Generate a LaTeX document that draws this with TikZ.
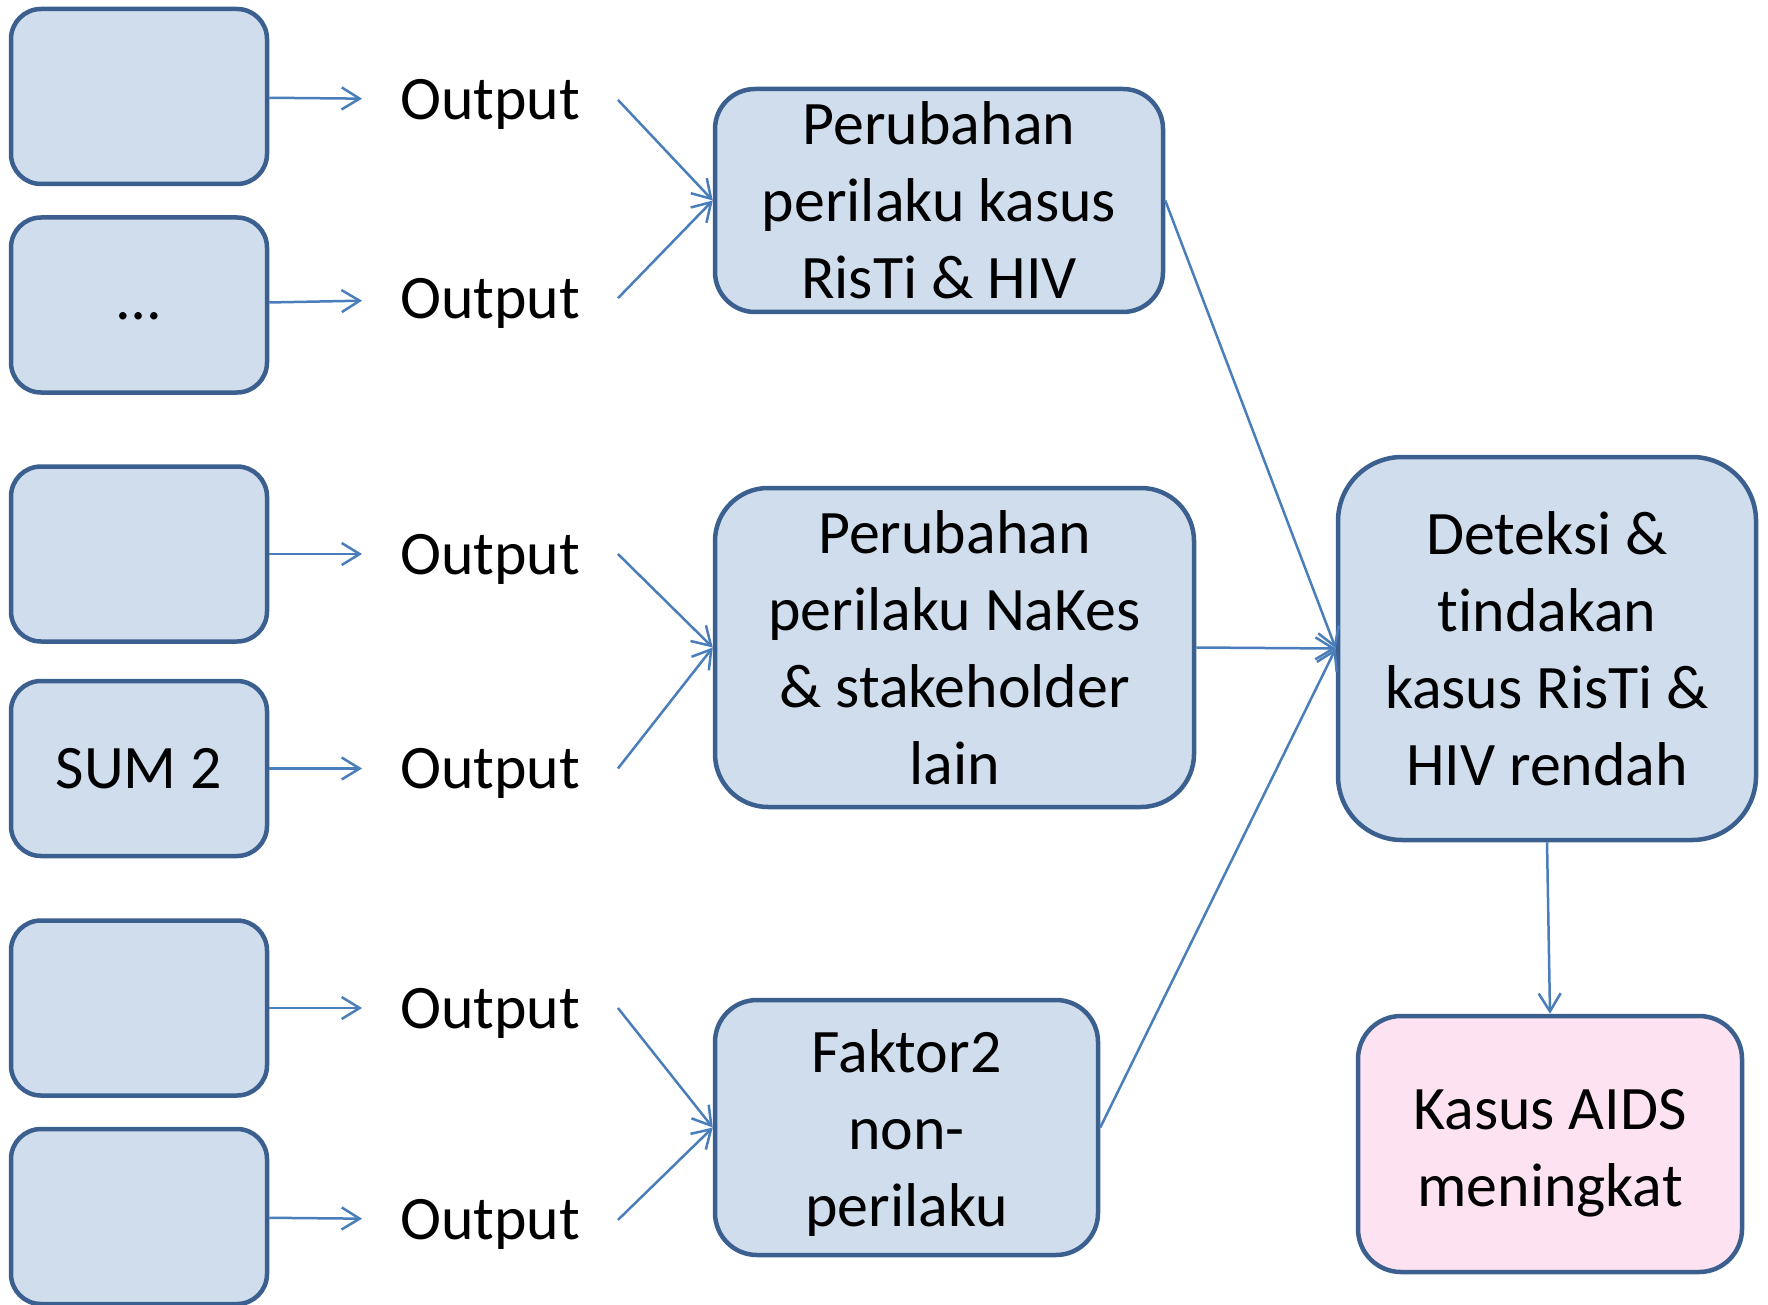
\documentclass[tikz,border=0pt]{standalone}
\usepackage{fontspec}
\setmainfont[Ligatures=NoCommon]{Carlito}
\usepackage{tikz}
\usetikzlibrary{positioning, arrows.meta}

\definecolor{boxline}{HTML}{3B5F8E}
\definecolor{boxfill}{HTML}{D0DDED}
\definecolor{pinkfill}{HTML}{FDE3F1}
\definecolor{arrowblue}{HTML}{4A7EBB}
\newcommand{\toprule}[1]{\rule{0pt}{#1}}

\begin{document}
\begin{tikzpicture}
    [
        node distance=2.1cm and 3.51cm, on grid,
        font=\fontsize{17.6}{21.9}\selectfont,
        blue_node/.style={rectangle, draw=boxline, fill=boxfill, line width=0.45mm, inner sep=0pt, align=center},
        left_node/.style={blue_node, rounded corners=3mm, minimum width=25.6mm, minimum height=17.5mm},
        pink_node/.style={blue_node, fill=pinkfill},
        out_label/.style={inner sep=0pt, outer sep=3.8mm, text depth=0pt},
        blue_arrow/.style={-{Straight Barb[length=1.8mm, width=2.2mm]}, line width=0.25mm, color=arrowblue},
    ]
        \useasboundingbox (0,0) rectangle (17.68,13.04);
        % left column
        \node[left_node] (sum1) at (1.39,12.075) {};
        \node[left_node] (sum2) [below = 2.085 of sum1] {\vphantom{Ag}\dots};
        \node[left_node] (sum3) [below = 2.49 of sum2] {};
        \node[left_node] (sum4) [below = 2.145 of sum3] {SUM 2};
        \node[left_node] (sum5) [below = 2.395 of sum4] {};
        \node[left_node] (sum6) [below = 2.085 of sum5] {};
        \node[out_label] (out1) [below right = 0.034 and 3.51 of sum1] {Output};
        \node[out_label] (out2) [above right = 0.068 and 3.51 of sum2] {Output};
        \node[out_label] (out3) [right = of sum3] {Output};
        \node[out_label] (out4) [right = of sum4] {Output};
        \node[out_label] (out5) [right = of sum5] {Output};
        \node[out_label] (out6) [below right = 0.034 and 3.51 of sum6] {Output};
        % middle column
        \node[blue_node, rounded corners=4mm, minimum width=44.8mm, minimum height=22.3mm] (kasus) at (9.39,11.035) {Perubahan\\perilaku kasus\\RisTi \& HIV};
        \node[blue_node, rounded corners=5.3mm, minimum width=47.9mm, minimum height=31.9mm] (nakes) at (9.545,6.565) {Perubahan\\perilaku NaKes\\\& stakeholder\\lain};
        \node[blue_node, rounded corners=4.2mm, minimum width=38.3mm, minimum height=25.5mm] (faktor) at (9.065,1.765) {\toprule{5.4mm}Faktor2\\non-\\perilaku};
        % right column
        \node[blue_node, rounded corners=6.4mm, minimum width=41.8mm, minimum height=38.3mm] (deteksi) at (15.47,6.555) {Deteksi \&\\tindakan\\kasus RisTi \&\\HIV rendah};
        \node[pink_node, rounded corners=4.3mm, minimum width=38.4mm, minimum height=25.6mm] (aids) at (15.50,1.60) {\toprule{5.8mm}Kasus AIDS\\meningkat};
        % connectors
        \draw[blue_arrow] (sum1) to (out1) ;
        \draw[blue_arrow] (sum2) to (out2) ;
        \draw[blue_arrow] (sum3) to (out3) ;
        \draw[blue_arrow] (sum4) to (out4) ;
        \draw[blue_arrow] (sum5) to (out5) ;
        \draw[blue_arrow] (sum6) to (out6) ;
        \draw[blue_arrow] (out1.east) to (kasus.west) ;
        \draw[blue_arrow] (out2.east) to (kasus.west) ;
        \draw[blue_arrow] (out3.east) to (nakes.west) ;
        \draw[blue_arrow] (out4.east) to (nakes.west) ;
        \draw[blue_arrow] (out5.east) to (faktor.west) ;
        \draw[blue_arrow] (out6.east) to (faktor.west) ;
        \draw[blue_arrow] (kasus.east) to (deteksi.west) ;
        \draw[blue_arrow] (nakes.east) to (deteksi.west) ;
        \draw[blue_arrow] (faktor.east) to (deteksi.west) ;
        \draw[blue_arrow] (deteksi.south) to (aids.north) ;
    \end{tikzpicture}
\end{document}
